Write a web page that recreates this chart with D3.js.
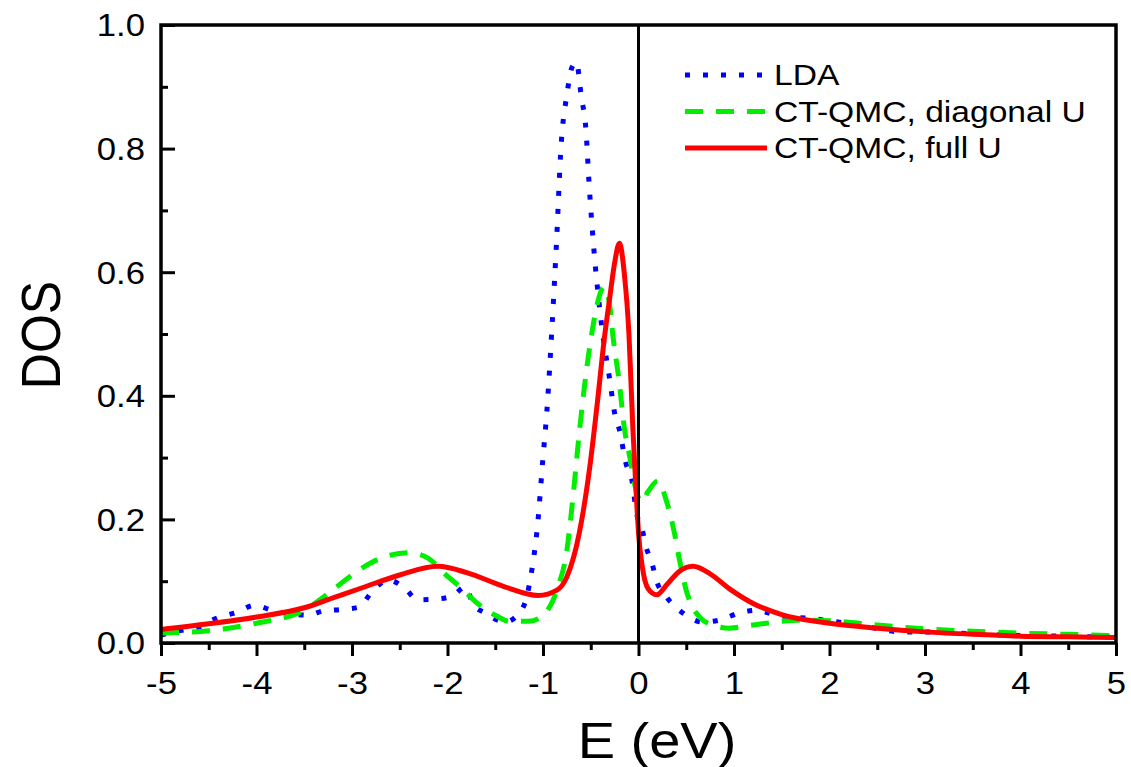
<!DOCTYPE html>
<html>
<head>
<meta charset="utf-8">
<script src="https://cdn.jsdelivr.net/npm/d3@7"></script>
<style>
  body { margin: 0; background: #fff; }
  text { font-family: "Liberation Sans", Arial, sans-serif; fill: #000; }
</style>
</head>
<body>
<script>
// LDA (blue dotted)
var ldaE = [-5, -4.8, -4.6, -4.42, -4.2, -4.02, -3.84, -3.67, -3.46, -3.3, -3.13, -2.93, -2.78, -2.62, -2.45, -2.31, -2.12, -1.95, -1.81, -1.73, -1.61, -1.4, -1.24, -1.17, -1.12, -1.06, -1.0, -0.96, -0.91, -0.86, -0.81, -0.75, -0.7, -0.65, -0.6, -0.55, -0.52, -0.47, -0.42, -0.38, -0.3, -0.25, -0.2, -0.13, -0.07, -0.02, 0.04, 0.08, 0.14, 0.19, 0.29, 0.46, 0.67, 0.85, 1.06, 1.24, 1.44, 1.61, 1.79, 2, 2.4, 2.76, 3, 3.5, 4, 4.5, 5];
var ldaDos = [0.013, 0.02, 0.026, 0.04, 0.05, 0.061, 0.053, 0.048, 0.045, 0.052, 0.054, 0.058, 0.085, 0.102, 0.089, 0.07, 0.071, 0.076, 0.091, 0.062, 0.049, 0.034, 0.05, 0.075, 0.115, 0.186, 0.3, 0.374, 0.5, 0.644, 0.806, 0.887, 0.93, 0.94, 0.885, 0.83, 0.75, 0.642, 0.56, 0.506, 0.425, 0.372, 0.345, 0.29, 0.264, 0.21, 0.183, 0.155, 0.13, 0.1, 0.075, 0.049, 0.034, 0.037, 0.049, 0.053, 0.045, 0.042, 0.04, 0.036, 0.026, 0.018, 0.018, 0.015, 0.012, 0.011, 0.009];

// CT-QMC, diagonal U (green dashed)
var diagE = [-5, -4.5, -4, -3.5, -3.25, -3, -2.8, -2.6, -2.4, -2.2, -2.05, -1.85, -1.7, -1.5, -1.35, -1.15, -1.0, -0.85, -0.75, -0.69, -0.62, -0.54, -0.49, -0.43, -0.36, -0.3, -0.27, -0.2, -0.15, -0.09, -0.03, 0.03, 0.1, 0.2, 0.3, 0.38, 0.43, 0.5, 0.57, 0.64, 0.8, 0.95, 1.15, 1.34, 1.68, 2, 2.5, 3, 3.5, 4, 4.5, 5];
var diagDos = [0.016, 0.02, 0.032, 0.053, 0.08, 0.11, 0.13, 0.142, 0.146, 0.137, 0.115, 0.088, 0.066, 0.045, 0.035, 0.035, 0.045, 0.088, 0.15, 0.23, 0.34, 0.447, 0.5, 0.55, 0.576, 0.545, 0.5, 0.42, 0.35, 0.3, 0.25, 0.228, 0.245, 0.262, 0.226, 0.175, 0.134, 0.085, 0.057, 0.042, 0.028, 0.024, 0.028, 0.032, 0.037, 0.036, 0.029, 0.023, 0.019, 0.016, 0.014, 0.012];

// CT-QMC, full U (red solid)
var fullE = [-5, -4.5, -4, -3.5, -3.2, -2.9, -2.5, -2.1, -1.8, -1.4, -1.05, -0.85, -0.75, -0.62, -0.51, -0.43, -0.36, -0.3, -0.25, -0.2, -0.15, -0.1, -0.06, -0.02, 0, 0.04, 0.1, 0.19, 0.3, 0.42, 0.57, 0.75, 0.95, 1.2, 1.5, 2, 2.5, 3, 3.5, 4, 4.5, 5];
var fullDos = [0.022, 0.031, 0.042, 0.057, 0.073, 0.089, 0.11, 0.124, 0.114, 0.091, 0.077, 0.086, 0.107, 0.178, 0.285, 0.39, 0.49, 0.56, 0.615, 0.647, 0.6, 0.5, 0.35, 0.23, 0.178, 0.123, 0.088, 0.078, 0.095, 0.115, 0.124, 0.112, 0.088, 0.064, 0.046, 0.032, 0.024, 0.018, 0.014, 0.011, 0.01, 0.009];

var xTicks = [-5, -4, -3, -2, -1, 0, 1, 2, 3, 4, 5];
var yTicks = [0.0, 0.2, 0.4, 0.6, 0.8, 1.0];
var seriesNames = ["LDA", "CT-QMC, diagonal U", "CT-QMC, full U"];

var W = 1131, H = 767;
var plot = {left: 161, right: 1116, top: 25, bottom: 643};
var stretch = 1.12; // glyphs in the reference are a bit wide

var svg = d3.select("body").append("svg")
  .attr("width", W)
  .attr("height", H);

var x = d3.scaleLinear().domain([-5, 5]).range([plot.left, plot.right]);
var y = d3.scaleLinear().domain([0, 1]).range([plot.bottom, plot.top]);

var zip = function(xs, ys){
  return xs.map(function(e, i){ return {e: e, v: ys[i]}; });
};

var series = [
  {name: seriesNames[0], data: zip(ldaE, ldaDos), color: "#0000ff", width: 5, dash: "5,13"},
  {name: seriesNames[1], data: zip(diagE, diagDos), color: "#00ee00", width: 5, dash: "18,13"},
  {name: seriesNames[2], data: zip(fullE, fullDos), color: "#ff0000", width: 5, dash: null}
];

// ---- axes ----
var xAxis = d3.axisBottom(x)
  .tickValues(xTicks)
  .tickSize(13)
  .tickFormat(function(d){ return String(d); });

var xMinor = d3.axisBottom(x)
  .tickValues(d3.range(-4.5, 5, 1))
  .tickSize(7)
  .tickFormat("");

var yAxis = d3.axisLeft(y)
  .tickValues(yTicks)
  .tickSize(-14)
  .tickFormat(d3.format(".1f"));

var yMinor = d3.axisLeft(y)
  .tickValues([0.1, 0.3, 0.5, 0.7, 0.9])
  .tickSize(-7)
  .tickFormat("");

var gx = svg.append("g")
  .attr("transform", "translate(0," + plot.bottom + ")")
  .call(xAxis);
svg.append("g")
  .attr("transform", "translate(0," + plot.bottom + ")")
  .call(xMinor);
var gy = svg.append("g")
  .attr("transform", "translate(" + plot.left + ",0)")
  .call(yAxis);
svg.append("g")
  .attr("transform", "translate(" + plot.left + ",0)")
  .call(yMinor);

svg.selectAll(".domain").remove();
svg.selectAll(".tick line").attr("stroke", "#000").attr("stroke-width", 3);

gx.selectAll(".tick text")
  .attr("y", 29)
  .attr("dy", "0.71em")
  .attr("transform", "scale(" + stretch + ",1)")
  .style("font-size", "31px")
  .style("font-family", "'Liberation Sans', Arial, sans-serif")
  .attr("fill", "#000");

gy.selectAll(".tick text")
  .attr("x", -16 / stretch)
  .attr("dy", "0.35em")
  .attr("transform", "scale(" + stretch + ",1)")
  .style("font-size", "31px")
  .style("font-family", "'Liberation Sans', Arial, sans-serif")
  .attr("fill", "#000");

// ---- curves ----
var line = d3.line()
  .x(function(d){ return x(d.e); })
  .y(function(d){ return y(d.v); })
  .curve(d3.curveMonotoneX);

series.forEach(function(s){
  svg.append("path")
    .datum(s.data)
    .attr("fill", "none")
    .attr("stroke", s.color)
    .attr("stroke-width", s.width)
    .attr("stroke-dasharray", s.dash)
    .attr("d", line);
});

// zero line
svg.append("line")
  .attr("x1", x(0)).attr("x2", x(0))
  .attr("y1", y(1)).attr("y2", y(0))
  .attr("stroke", "#000")
  .attr("stroke-width", 3);

// frame
svg.append("rect")
  .attr("x", plot.left)
  .attr("y", plot.top)
  .attr("width", plot.right - plot.left)
  .attr("height", plot.bottom - plot.top)
  .attr("fill", "none")
  .attr("stroke", "#000")
  .attr("stroke-width", 3.5);

// ---- axis titles ----
svg.append("text")
  .attr("transform", "translate(657,758) scale(" + stretch + ",1)")
  .attr("text-anchor", "middle")
  .style("font-size", "50px")
  .text("E (eV)");

svg.append("text")
  .attr("transform", "translate(60,335) scale(" + stretch + ",1) rotate(-90)")
  .attr("text-anchor", "middle")
  .style("font-size", "50px")
  .text("DOS");

// ---- legend ----
var legend = svg.append("g").attr("transform", "translate(685,75)");
series.forEach(function(s, i){
  var row = legend.append("g").attr("transform", "translate(0," + (i * 36.5) + ")");
  row.append("line")
    .attr("x1", 0).attr("x2", 82)
    .attr("y1", 0).attr("y2", 0)
    .attr("stroke", s.color)
    .attr("stroke-width", s.width)
    .attr("stroke-dasharray", s.dash);
  row.append("text")
    .attr("transform", "translate(89,10) scale(" + stretch + ",1)")
    .style("font-size", "30px")
    .text(s.name);
});
</script>
</body>
</html>
